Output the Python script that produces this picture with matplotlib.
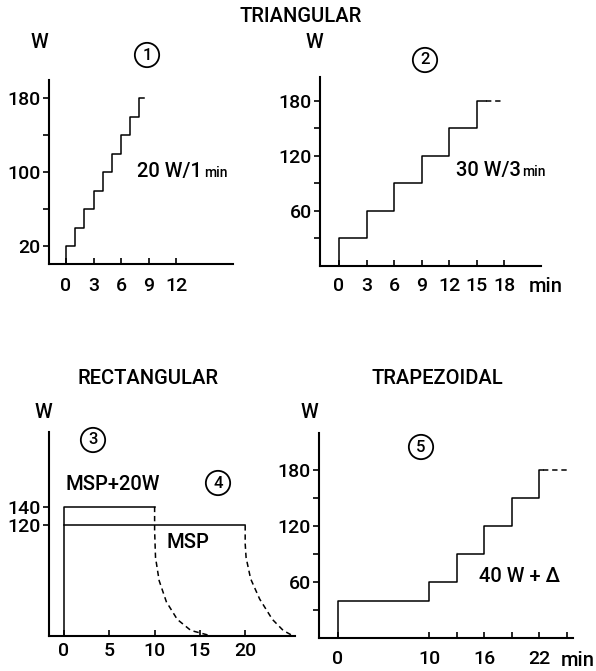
import matplotlib
matplotlib.use("Agg")
import matplotlib.pyplot as plt
from matplotlib import font_manager

W_PX, H_PX = 596, 671

# ── values (time in min, load in W)
TRI1_T = [0, 1, 2, 3, 4, 5, 6, 7, 8, 8.5]
TRI1_W = [20, 40, 60, 80, 100, 120, 140, 160, 180, 180]

TRI2_T = [0, 3, 6, 9, 12, 15, 16]
TRI2_W = [30, 60, 90, 120, 150, 180, 180]
TRI2_TAIL_T = [16, 18]
TRI2_TAIL_W = [180, 180]

RECT_HI_T = [0, 0, 10]
RECT_HI_W = [0, 140, 140]
RECT_HI_DECAY_T = [10, 10, 10.1, 10.5, 11.3, 12.5, 14.0, 16.3]
RECT_HI_DECAY_W = [140, 115, 85, 60, 37, 18, 6, 0]
RECT_MSP_T = [0, 20]
RECT_MSP_W = [120, 120]
RECT_MSP_DECAY_T = [20, 20, 20.1, 20.6, 21.6, 23.0, 24.2, 25.3]
RECT_MSP_DECAY_W = [120, 100, 85, 62, 40, 18, 6, 0]

TRAP_T = [0, 10, 13, 16, 19, 22, 22.4]
TRAP_W = [40, 60, 90, 120, 150, 180, 180]
TRAP_TAIL_T = [22.4, 25]
TRAP_TAIL_W = [180, 180]

# ticks
P1_XTICKS = [0, 3, 6, 9, 12]
P1_YTICKS = [20, 100, 180]
P1_YMINOR = [60, 140]
P2_XTICKS = [0, 3, 6, 9, 12, 15, 18]
P2_YTICKS = [60, 120, 180]
P2_YMINOR = [30, 90, 150]
P3_XTICKS = [0, 5, 10, 15, 20]
P3_YTICKS = [120, 140]
P5_XTICKS = [0, 10, 16, 22]
P5_XMINOR = [13, 19, 25]
P5_YTICKS = [60, 120, 180]
P5_YMINOR = [30, 90, 150]

names = {f.name for f in font_manager.fontManager.ttflist}
FONT = "Roboto" if "Roboto" in names else "DejaVu Sans"
plt.rcParams["font.family"] = [FONT, "DejaVu Sans"]
plt.rcParams["font.weight"] = "medium"

LW = 1.1
SPINE_LW = 1.5
TICK_FS = 14
TXT_FS = 14.5
DASH = (0, (3.5, 2.5))

fig = plt.figure(figsize=(W_PX / 100, H_PX / 100), dpi=100)


def make_axes(box, xlim, ylim, xpad=7):
    left, top, right, bottom = box
    ax = fig.add_axes([left / W_PX, 1 - bottom / H_PX,
                       (right - left) / W_PX, (bottom - top) / H_PX])
    ax.set_xlim(xlim)
    ax.set_ylim(ylim)
    ax.patch.set_visible(False)
    for s in ("top", "right"):
        ax.spines[s].set_visible(False)
    for s in ("left", "bottom"):
        ax.spines[s].set_linewidth(SPINE_LW)
    ax.tick_params(axis="y", which="both", direction="out", length=4,
                   width=1.2, pad=2, labelsize=TICK_FS)
    ax.tick_params(axis="x", which="both", direction="in", length=4,
                   width=1.2, pad=xpad, labelsize=TICK_FS)
    return ax


def ftext(x, y, s, size=TXT_FS, ha="center", va="center", **kw):
    return fig.text(x / W_PX, 1 - y / H_PX, s, fontsize=size, ha=ha, va=va, **kw)


def circled(x, y, s):
    fig.text(x / W_PX, 1 - y / H_PX, s, fontsize=12, ha="center", va="center",
             bbox=dict(boxstyle="circle,pad=0.28", fc="none", ec="black", lw=1.3))


# ── 1: triangular 20 W / 1 min
ax1 = make_axes((49, 80, 233, 264.5), (-1.85, 18.2), (0, 200), xpad=9)
ax1.step([0] + TRI1_T, [0] + TRI1_W, where="post", color="black", lw=LW)
ax1.set_xticks(P1_XTICKS)
ax1.set_yticks(P1_YTICKS)
ax1.set_yticks(P1_YMINOR, minor=True)

# ── 2: triangular 30 W / 3 min
ax2 = make_axes((320, 77, 541, 266), (-2.07, 22.0), (0, 206), xpad=8)
ax2.step([0] + TRI2_T, [0] + TRI2_W, where="post", color="black", lw=LW)
ax2.plot(TRI2_TAIL_T, TRI2_TAIL_W, color="black", lw=LW, ls=DASH)
ax2.set_xticks(P2_XTICKS)
ax2.set_yticks(P2_YTICKS)
ax2.set_yticks(P2_YMINOR, minor=True)

# ── 3/4: rectangular
ax3 = make_axes((49, 432, 295, 636), (-1.66, 25.5), (0, 221), xpad=4.5)
ax3.plot(RECT_HI_T, RECT_HI_W, color="black", lw=LW)
ax3.plot(RECT_HI_DECAY_T, RECT_HI_DECAY_W, color="black", lw=LW, ls=DASH)
ax3.plot(RECT_MSP_T, RECT_MSP_W, color="black", lw=LW)
ax3.plot(RECT_MSP_DECAY_T, RECT_MSP_DECAY_W, color="black", lw=LW, ls=DASH)
ax3.set_xticks(P3_XTICKS)
ax3.set_yticks(P3_YTICKS)

# ── 5: trapezoidal
ax5 = make_axes((319, 433, 573, 638), (-2.08, 25.7), (0, 220), xpad=8.5)
ax5.step([0] + TRAP_T, [0] + TRAP_W, where="post", color="black", lw=LW)
ax5.plot(TRAP_TAIL_T, TRAP_TAIL_W, color="black", lw=LW, ls=DASH)
ax5.set_xticks(P5_XTICKS)
ax5.set_xticks(P5_XMINOR, minor=True)
ax5.set_yticks(P5_YTICKS)
ax5.set_yticks(P5_YMINOR, minor=True)

# ── labels
ftext(301, 17, "TRIANGULAR")
ftext(148, 379, "RECTANGULAR")
ftext(437, 379, "TRAPEZOIDAL")

ftext(39, 43, "W")
ftext(314, 43, "W")
ftext(43, 412, "W")
ftext(309, 412, "W")

circled(147, 55, "1")
circled(425, 60, "2")
circled(93, 440, "3")
circled(218, 483, "4")
circled(421, 447, "5")

ftext(137, 177, "20 W/1", ha="left", va="baseline")
ftext(204, 177, "min", size=10, ha="left", va="baseline")
ftext(456, 176, "30 W/3", ha="left", va="baseline")
ftext(522, 176, "min", size=10, ha="left", va="baseline")

ftext(113, 485, "MSP+20W")
ftext(188, 542, "MSP")
ftext(520, 577, "40 W + Δ")

ftext(546, 287, "min")
ftext(578, 660, "min")

fig.savefig("out.png", dpi=100)
